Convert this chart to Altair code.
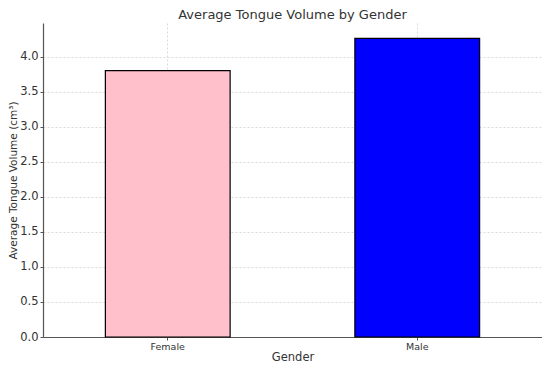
import altair as alt
import pandas as pd

genders = ["Female", "Male"]
volumes = [3.80, 4.26]
colors = ["#FFC0CB", "#0000FF"]

df = pd.DataFrame({"Gender": genders, "Volume": volumes, "Color": colors})

FONT = "DejaVu Sans"

bars = alt.Chart(df).mark_bar(stroke="black", strokeWidth=1.2).encode(
    x=alt.X(
        "Gender:N",
        sort=genders,
        scale=alt.Scale(paddingInner=0.5, paddingOuter=0.25),
        axis=alt.Axis(
            title="Gender",
            labelAngle=0,
            labelFontSize=9.5,
            labelColor="#333",
            titleFontSize=11.5,
            titleColor="#333",
            titleFontWeight="normal",
            labelPadding=1,
            titlePadding=1,
            grid=True,
            bandPosition=0.5,
            gridColor="#cccccc",
            gridDash=[2, 2],
            gridWidth=0.7,
            domainColor="#555",
            domainWidth=1.2,
            tickColor="#555",
            tickSize=3,
            labelFont=FONT,
            titleFont=FONT,
        ),
    ),
    y=alt.Y(
        "Volume:Q",
        scale=alt.Scale(domain=[0, 4.48], nice=False),
        axis=alt.Axis(
            title="Average Tongue Volume (cm³)",
            values=[0, 0.5, 1.0, 1.5, 2.0, 2.5, 3.0, 3.5, 4.0],
            format=".1f",
            labelFontSize=11.5,
            labelColor="#333",
            titleFontSize=10.5,
            titleColor="#333",
            titleFontWeight="normal",
            labelPadding=2,
            titlePadding=1,
            grid=True,
            gridColor="#cccccc",
            gridDash=[2, 2],
            gridWidth=0.7,
            domainColor="#555",
            domainWidth=1.2,
            tickColor="#555",
            tickSize=3,
            labelFont=FONT,
            titleFont=FONT,
        ),
    ),
    color=alt.Color("Color:N", scale=None, legend=None),
)

chart = bars.properties(
    width=499,
    height=314,
    title=alt.TitleParams(
        "Average Tongue Volume by Gender",
        fontSize=13,
        font=FONT,
        fontWeight="normal",
        color="#333",
        offset=1,
    ),
    autosize=alt.AutoSizeParams(type="none"),
    padding={"left": 35, "top": 15, "right": 0, "bottom": 26},
).configure_view(stroke=None)

chart.save("out.html", embed_options={"renderer": "svg", "actions": False})
